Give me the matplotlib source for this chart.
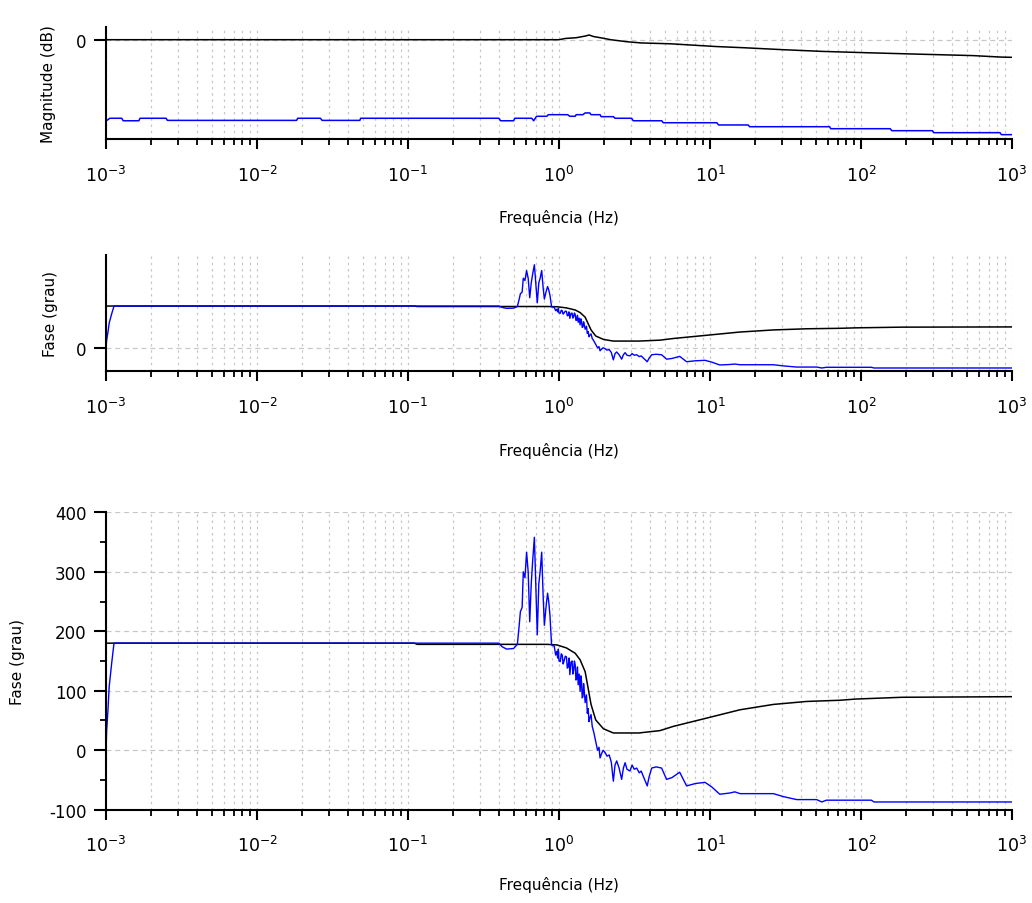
import matplotlib.pyplot as plt
from matplotlib.ticker import FixedLocator, LogLocator, NullFormatter, MultipleLocator

# Magnitude (dB) - reference (black) and measured (blue)
freq_mag_ref = [1e-3, 1.0, 1.1, 1.3, 1.5, 1.58, 1.7, 1.9, 2.2, 2.8, 3.5, 5.5, 7.5, 11, 17, 30,
                55, 110, 250, 550, 850, 1000]
mag_ref = [0, 0, 1.0, 1.6, 3.0, 3.8, 2.5, 1.5, 0, -1.6, -2.6, -3.3, -4.3, -5.5, -6.5, -8,
           -9.4, -10.5, -11.7, -12.8, -14.0, -14.2]

freq_mag_meas = [1e-3, 1.06e-3, 1.27e-3, 1.3e-3, 1.65e-3, 1.68e-3, 2.5e-3, 2.55e-3, 0.0183, 0.0186,
                 0.0263, 0.027, 0.048, 0.0486, 0.40, 0.41, 0.50, 0.51, 0.66, 0.68, 0.71, 0.83,
                 0.85, 1.14, 1.18, 1.28, 1.3, 1.44, 1.49, 1.6, 1.63, 1.87, 1.9, 2.29, 2.35, 3.03,
                 3.1, 4.79, 4.9, 11.1, 11.4, 17.9, 18.3, 62, 63, 156, 160, 297, 303, 833, 850, 1000]
mag_meas = [-65.5, -63.3, -63.3, -65.3, -65.3, -63.3, -63.3, -65.0, -65.0, -63.3,
            -63.3, -65.0, -65.0, -63.3, -63.3, -65.3, -65.3, -63.3, -63.3, -65.3, -61.7, -61.7,
            -60.4, -60.4, -61.7, -61.7, -60.4, -60.4, -59.0, -59.0, -60.4, -60.4, -62.0, -62.0, -63.3, -63.3,
            -65.3, -65.3, -66.9, -66.9, -68.7, -68.7, -70.1, -70.1, -71.7, -71.7, -73.3, -73.3, -74.9, -74.9, -76.5, -76.5]

# Fase (grau) - reference (black) and measured (blue)
freq_ph_ref = [1e-3, 0.11, 0.115, 0.83, 0.97, 1.12, 1.28, 1.38, 1.49, 1.56, 1.63, 1.75, 1.97,
               2.29, 3.38, 4.67, 5.7, 9.5, 15.8, 26.3, 43.7, 72.5, 92, 186, 1000]
ph_ref = [180, 180, 178, 178, 177, 172, 163, 152, 132, 104, 77, 51, 36,
          29, 29, 33, 40, 54, 68, 77, 82, 84, 86, 89, 90]

freq_ph_meas = [1.0e-3, 1.01e-3, 1.03e-3, 1.05e-3, 1.09e-3, 1.13e-3,
                0.40, 0.42, 0.45, 0.50, 0.53,
                0.545, 0.555, 0.57, 0.58, 0.595, 0.61, 0.625, 0.64, 0.655, 0.67, 0.687, 0.70,
                0.718, 0.735, 0.75, 0.768, 0.785, 0.80, 0.82, 0.84, 0.855, 0.871, 0.893,
                0.93, 0.95, 0.966, 0.98, 0.99, 1.0, 1.02, 1.035, 1.05, 1.065, 1.08, 1.10, 1.12,
                1.135, 1.15, 1.165, 1.18, 1.2, 1.22, 1.235, 1.25, 1.265, 1.28, 1.295, 1.31,
                1.325, 1.34, 1.36, 1.38, 1.395, 1.41, 1.425, 1.44, 1.455, 1.47, 1.49, 1.52,
                1.54, 1.56, 1.58, 1.60, 1.63, 1.66, 1.70, 1.73, 1.77,
                1.80, 1.84, 1.87, 1.92, 1.96, 2.02, 2.08, 2.15, 2.22, 2.29, 2.35, 2.41, 2.5,
                2.6, 2.67, 2.74, 2.82, 2.95, 3.05, 3.15, 3.27, 3.4, 3.5, 3.62, 3.84, 3.95,
                4.11, 4.4, 4.78, 5.16, 5.6, 6.3, 7.0, 8.0, 9.27, 10.3, 11.6, 13.5, 14.6,
                15.8, 26.3, 30.6, 37.5, 50.8, 55, 59, 117, 122, 1000]
ph_meas = [0, 33, 67, 107, 146, 180,
           180, 174, 170, 171, 178,
           210, 233, 240, 300, 290, 333, 300, 216, 280, 320, 358, 290,
           194, 280, 300, 333, 260, 210, 240, 264, 250, 227, 177,
           175, 160, 166, 155, 170, 150, 149, 162, 160, 145, 150, 158, 157,
           138, 140, 155, 127, 148, 150, 128, 135, 150, 144, 118, 120,
           140, 110, 128, 99, 125, 115, 88, 90, 112, 100, 80, 93,
           62, 70, 48, 54, 60, 40, 30, 21, 10,
           0, 5, -13, -5, 0, -4, -10, -8, -20, -52, -25, -18, -30,
           -49, -30, -21, -32, -35, -25, -32, -30, -38, -35, -44, -60, -45,
           -30, -28, -30, -49, -46, -37, -60, -56, -54, -62, -74, -72, -70,
           -73, -73, -78, -83, -83, -87, -84, -84, -87, -87]

decades = [-3, -2, -1, 0, 1, 2, 3]

plt.rcParams['font.family'] = 'DejaVu Sans'
plt.rcParams['mathtext.default'] = 'regular'
plt.rcParams['axes.unicode_minus'] = False

W, H = 1032, 904
fig = plt.figure(figsize=(W / 100, H / 100), dpi=100)


def make_axes(top, bottom):
    return fig.add_axes([106 / W, 1 - bottom / H, 906 / W, (bottom - top) / H])


def style(ax, ylabel, ylabel_x, xlabel_y):
    ax.set_xscale('log')
    ax.set_xlim(1e-3, 1e3)
    for s in ['top', 'right']:
        ax.spines[s].set_visible(False)
    for s in ['left', 'bottom']:
        ax.spines[s].set_linewidth(1.5)
    ax.xaxis.set_major_locator(FixedLocator([10.0 ** k for k in decades]))
    ax.set_xticklabels([r'$10^{%d}$' % k for k in decades])
    ax.xaxis.set_minor_locator(LogLocator(base=10, subs=range(2, 10)))
    ax.xaxis.set_minor_formatter(NullFormatter())
    ax.tick_params(axis='x', which='major', length=7.5, width=1.5, labelsize=12.5, pad=11)
    ax.tick_params(axis='x', which='minor', length=4.5, width=1.3)
    ax.tick_params(axis='y', which='major', length=9, width=1.5, labelsize=12, pad=5)
    ax.tick_params(axis='y', which='minor', length=4.5, width=1.3)
    ax.grid(True, which='both', axis='x', color='#c8c8c8', linestyle=(0, (2, 3)), linewidth=0.9)
    ax.grid(True, which='major', axis='y', color='#c8c8c8', linestyle=(0, (4, 3)), linewidth=0.9)
    ax.set_axisbelow(True)
    h = ax.get_position().height * H
    ax.set_xlabel('Frequência (Hz)', fontsize=11)
    ax.xaxis.set_label_coords(0.5, -xlabel_y / h)
    ax.xaxis.label.set_va('center')
    ax.set_ylabel(ylabel, fontsize=11)
    ax.yaxis.set_label_coords((ylabel_x - 106) / 906, 0.5)
    ax.yaxis.label.set_va('center')


# Magnitude
ax1 = make_axes(28.3, 140)
ax1.plot(freq_mag_ref, mag_ref, color='black', linewidth=1.1)
ax1.plot(freq_mag_meas, mag_meas, color='blue', linewidth=1.1)
ax1.set_ylim(-80, 10)
ax1.set_yticks([0])
style(ax1, 'Magnitude (dB)', 48, 78)

# Fase (compacta)
ax2 = make_axes(256, 372)
ax2.plot(freq_ph_ref, ph_ref, color='black', linewidth=1.1)
ax2.plot(freq_ph_meas, ph_meas, color='blue', linewidth=1.0)
ax2.set_ylim(-100, 400)
ax2.set_yticks([0])
style(ax2, 'Fase (grau)', 50, 79)

# Fase
ax3 = make_axes(513.3, 810.7)
ax3.plot(freq_ph_ref, ph_ref, color='black', linewidth=1.1)
ax3.plot(freq_ph_meas, ph_meas, color='blue', linewidth=1.0)
ax3.set_ylim(-100, 400)
ax3.yaxis.set_major_locator(MultipleLocator(100))
ax3.yaxis.set_minor_locator(MultipleLocator(50))
style(ax3, 'Fase (grau)', 18, 74)

fig.savefig('out.png', dpi=100)
